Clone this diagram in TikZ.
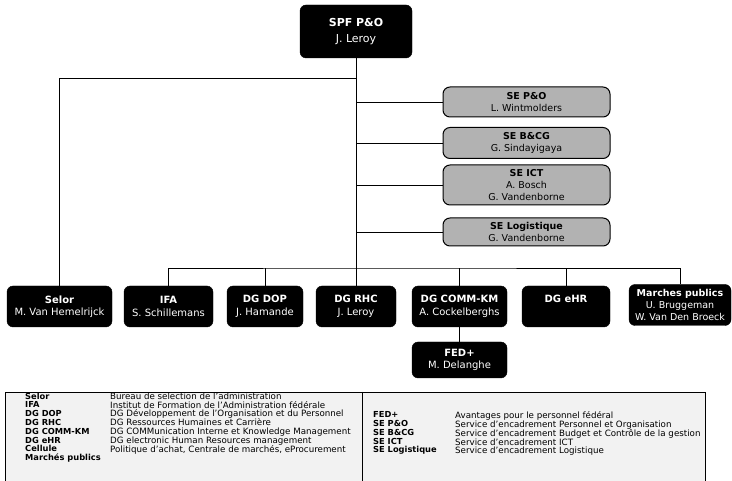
\documentclass[tikz,border=0pt]{standalone}
\usepackage{fontspec}
\setmainfont{DejaVu Sans}
\usepackage{tikz}

\begin{document}
\begin{tikzpicture}[x=1pt, y=-1pt,
	boss/.style={draw, fill=black, text=white, rounded corners=6pt, align=center, inner sep=0pt, minimum height=41pt, font=\fontsize{10}{12.5}\selectfont},
	staff/.style={draw, line width=1pt, fill=black!30, rounded corners=7pt, align=center, inner sep=0pt, minimum width=167pt, font=\fontsize{9.5}{12}\selectfont},
	wire/.style={line width=0.8pt},
	legend/.style={anchor=north west, align=left, inner sep=0pt, font=\fontsize{8.7}{8.8}\selectfont}]
	\useasboundingbox (0,0) rectangle (732,481);
	
	\node[boss, minimum width=112pt, minimum height=53pt, font=\fontsize{11}{16}\selectfont] (spf) at (356,31.5) {\textbf{SPF P\&O}\\J. Leroy};
	
	\node[staff, minimum height=30pt] (sepo) at (526.5,102) {\textbf{SE P\&O}\\L. Wintmolders};
	\node[staff, minimum height=31pt] (sebcg) at (526.5,143) {\textbf{SE B\&CG}\\G. Sindayigaya};
	\node[staff, minimum height=40pt] (seict) at (526.5,185) {\textbf{SE ICT}\\A. Bosch\\G. Vandenborne};
	\node[staff, minimum height=28pt] (selog) at (526.5,232) {\textbf{SE Logistique}\\G. Vandenborne};
	
	\node[boss, minimum width=105pt] (selor) at (59.5,306.5) {\textbf{Selor}\\M. Van Hemelrijck};
	\node[boss, minimum width=89pt] (ifa) at (168.5,306.5) {\textbf{IFA}\\S. Schillemans};
	\node[boss, minimum width=76pt] (dop) at (265,306.5) {\textbf{DG DOP}\\J. Hamande};
	\node[boss, minimum width=80pt] (rhc) at (356,306.5) {\textbf{DG RHC}\\J. Leroy};
	\node[boss, minimum width=95pt] (comm) at (459.5,306.5) {\textbf{DG COMM-KM}\\A. Cockelberghs};
	\node[boss, minimum width=88pt] (ehr) at (566,306.5) {\textbf{DG eHR}\\\phantom{J}};
	\node[boss, minimum width=102pt, font=\fontsize{9.5}{12}\selectfont] (mp) at (680,305) {\textbf{Marches publics}\\U. Bruggeman\\W. Van Den Broeck};
	\node[boss, minimum width=95pt, minimum height=36pt] (fed) at (459.5,360) {\textbf{FED+}\\M. Delanghe};
	
	\coordinate (top) at (356,78);
	\coordinate (bus) at (356,268);
	\draw[wire] (spf) -- (bus);
	\draw[wire] (top) -| (selor);
	\foreach \s in {sepo,sebcg,seict,selog}
		\draw[wire] (spf.south |- \s) -- (\s);
	\draw[wire] (ifa) |- (bus) -| (mp);
	\foreach \n in {dop,rhc,comm,ehr}
		\draw[wire] (\n) -- (\n |- bus);
	\draw[wire] (comm) -- (fed);
	
	% legend
	\fill[black!5] (5,392) rectangle (705,481);
	\draw[line width=0.8pt] (5,481) |- (705,392) -- (705,481);
	\draw[line width=0.8pt] (362,392) -- (362,481);
	\node[legend, font=\fontsize{8.3}{8.8}\selectfont\bfseries] (legLa) at (25,392.5) {Selor\\IFA\\DG DOP\\DG RHC\\DG COMM-KM\\DG eHR\\Cellule\\Marchés publics};
	\node[legend] (legLb) at (110,392.5) {Bureau de selection de l'administration\\Institut de Formation de l'Administration fédérale\\DG Développement de l'Organisation et du Personnel\\DG Ressources Humaines et Carrière\\DG COMMunication Interne et Knowledge Management\\DG electronic Human Resources management\\Politique d'achat, Centrale de marchés, eProcurement};
	\node[legend, font=\fontsize{8.3}{8.8}\selectfont\bfseries] (legRa) at (373,411.5) {FED+\\SE P\&O\\SE B\&CG\\SE ICT\\SE Logistique};
	\node[legend] (legRb) at (455,411.5) {Avantages pour le personnel fédéral\\Service d'encadrement Personnel et Organisation\\Service d'encadrement Budget et Contrôle de la gestion\\Service d'encadrement ICT\\Service d'encadrement Logistique};
\end{tikzpicture}
\end{document}
